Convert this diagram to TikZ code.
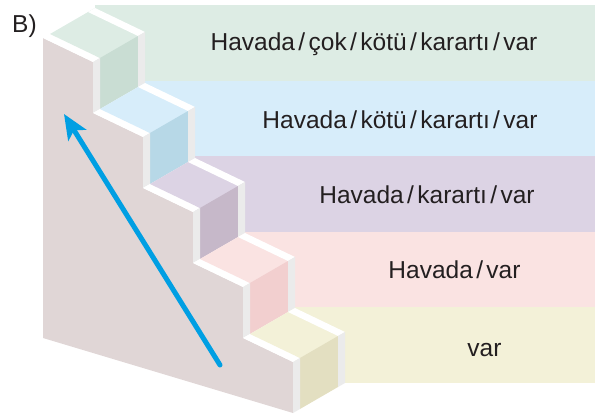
\documentclass[tikz,border=0pt]{standalone}
\usepackage{fontspec}
\setmainfont{Liberation Sans}
\usetikzlibrary{calc,arrows.meta}
\definecolor{Tgreen}{HTML}{DDECE4}
\definecolor{Tblue}{HTML}{D7EDFA}
\definecolor{Tpurple}{HTML}{DCD3E4}
\definecolor{Tpink}{HTML}{FAE3E2}
\definecolor{Tyellow}{HTML}{F3F1D8}
\definecolor{Rgreen}{HTML}{C9DDD3}
\definecolor{Rblue}{HTML}{B7D8E7}
\definecolor{Rpurple}{HTML}{C6B8C9}
\definecolor{Rpink}{HTML}{F2CFCF}
\definecolor{Ryellow}{HTML}{E3DFC1}
\definecolor{wallc}{HTML}{E0D6D6}
\definecolor{stripg}{HTML}{EBEBEB}
\definecolor{arrowblue}{HTML}{009FE3}
\definecolor{txt}{HTML}{231F20}
\newcommand\slh{\kern3.4pt/\kern3.4pt}
\begin{document}
\begin{tikzpicture}[x=1pt,y=-1pt,
  lbl/.style={anchor=base,inner sep=0pt,text=txt,font=\fontsize{24.5}{30}\selectfont},
  arrowline/.style={line width=5pt,draw=arrowblue,line cap=round,
    -{Stealth[length=25pt,width=21pt,inset=6pt]}}]
\useasboundingbox (0,0) rectangle (595,415);
% background bands
\foreach \k/\c in {0/green,1/blue,2/purple,3/pink,4/yellow}{
  \fill[T\c] (95+50*\k,5+75.5*\k) rectangle (595,80.5+75.5*\k);
}
% side wall
\coordinate (W) at (43,338);
\coordinate (B4) at (293,413);
\fill[wallc] (43,38) -- (93,62) -- (93,113) -- (143,137) -- (143,188) -- (193,212)
  -- (193,263) -- (243,287) -- (243,338) -- (293,362) -- (B4) -- (W) -- cycle;
% steps
\foreach \k/\c in {0/green,1/blue,2/purple,3/pink,4/yellow}{
  \coordinate (t) at (43+50*\k,38+75*\k);
  \coordinate (f) at (93+50*\k,62+75*\k);
  \coordinate (b) at (93+50*\k,113+75*\k);
  \coordinate (ts) at ($(t)+(7,-4)$);
  \coordinate (fs) at ($(f)+(7,-4)$);
  \coordinate (bs) at ($(b)+(7,-4)$);
  \coordinate (tv) at ($(t)+(52,-30)$);
  \coordinate (fv) at ($(f)+(52,-30)$);
  \coordinate (bv) at ($(b)+(52,-30)$);
  \coordinate (tvs) at ($(tv)+(-7,4)$);
  \coordinate (fvs) at ($(fv)+(-7,4)$);
  \coordinate (bvs) at ($(bv)+(-7,4)$);
  % front edge strip
  \fill[white] (t) -- (f) -- (fs) -- (ts) -- cycle;
  % tread top
  \fill[T\c] (ts) -- (tv) -- (fv) -- (fs) -- cycle;
  % back-right edge strip
  \fill[white] (tvs) -- (tv) -- (fv) -- (fvs) -- cycle;
  % riser
  \fill[R\c] (fs) -- (fvs) -- (bvs) -- (bs) -- cycle;
  % vertical edge strips
  \fill[stripg] (f) -- (fs) -- (bs) -- (b) -- cycle;
  \fill[stripg] (fvs) -- (fv) -- (bv) -- (bvs) -- cycle;
}
% labels
\node[lbl,anchor=base west] (lb) at (12,32) {B)};
\node[lbl] (r1) at (374,50) {Havada\slh çok\slh kötü\slh karartı\slh var};
\node[lbl] (r2) at (400,128) {Havada\slh kötü\slh karartı\slh var};
\node[lbl] (r3) at (427,203) {Havada\slh karartı\slh var};
\node[lbl] (r4) at (454.5,278) {Havada\slh var};
\node[lbl] (r5) at (484.5,356.5) {var};
% arrow
\coordinate (tail) at (220,365);
\coordinate (tip) at (64,114);
\draw[arrowline] (tail) -- (tip);
\end{tikzpicture}
\end{document}
